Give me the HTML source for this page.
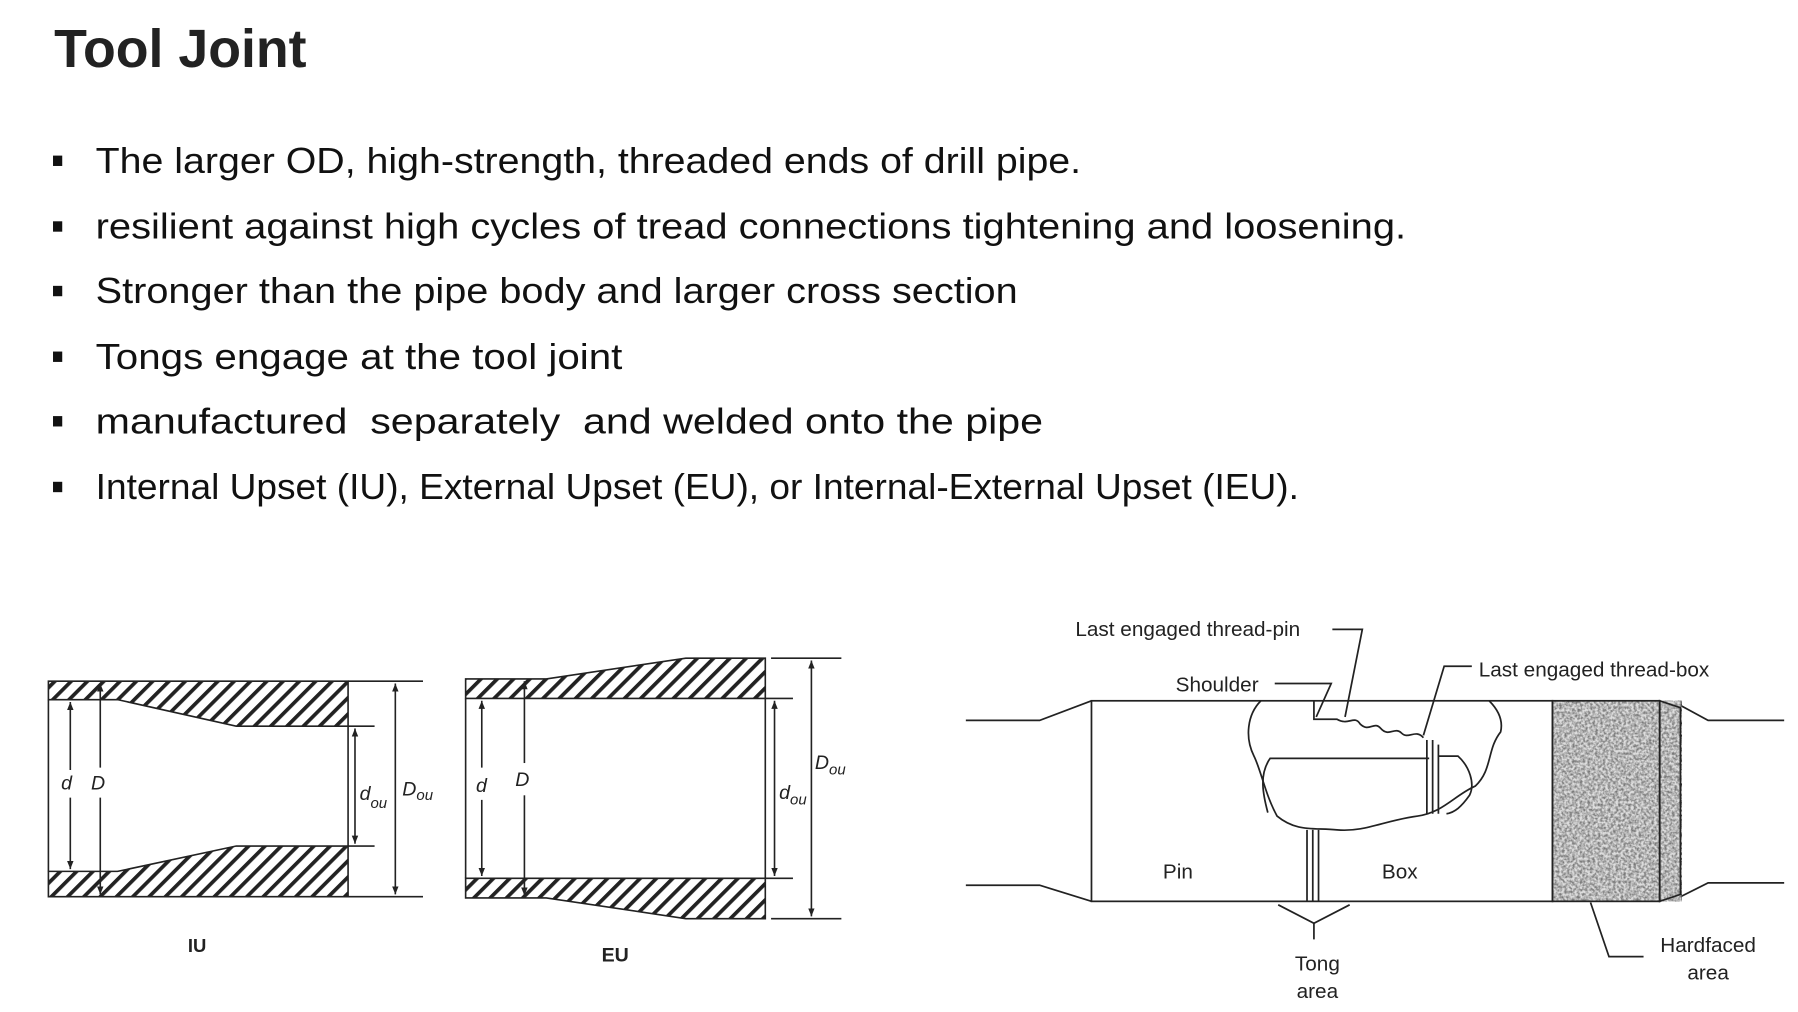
<!DOCTYPE html>
<html><head><meta charset="utf-8"><style>
html,body{margin:0;padding:0;background:#fff;}
svg{display:block;}
</style></head><body>
<svg width="1798" height="1012" viewBox="0 0 1560 878" preserveAspectRatio="none" xmlns="http://www.w3.org/2000/svg">
<defs>
<pattern id="hatch" patternUnits="userSpaceOnUse" width="10" height="10" patternTransform="rotate(45)">
<rect width="10" height="10" fill="#fff"/><rect x="0" y="0" width="3.2" height="10" fill="#222"/>
</pattern>
<filter id="noise" x="0" y="0" width="100%" height="100%">
<feTurbulence type="fractalNoise" baseFrequency="0.45" numOctaves="2" seed="3"/>
<feColorMatrix type="matrix" values="0 0 0 0 0  0 0 0 0 0  0 0 0 0 0  0 0 0 -2.2 1.5"/>
</filter>
<marker id="ar" viewBox="0 0 10 10" refX="10" refY="5" markerWidth="7" markerHeight="9" orient="auto-start-reverse" markerUnits="userSpaceOnUse">
<path d="M0,1 L10,5 L0,9 Z" fill="#222"/></marker>
</defs>
<rect width="1560" height="878" fill="#fff"/>
<text x="47" y="58" font-family="Liberation Sans, sans-serif" font-weight="bold" font-size="47" fill="#222" textLength="219" lengthAdjust="spacingAndGlyphs">Tool Joint</text>
<g font-family="Liberation Sans, sans-serif" font-size="31" fill="#111">
<rect x="46" y="135" width="8" height="9" fill="#111"/><text x="83" y="150" textLength="855" lengthAdjust="spacingAndGlyphs">The larger OD, high-strength, threaded ends of drill pipe.</text>
<rect x="46" y="192" width="8" height="9" fill="#111"/><text x="83" y="207" textLength="1137" lengthAdjust="spacingAndGlyphs">resilient against high cycles of tread connections tightening and loosening.</text>
<rect x="46" y="248" width="8" height="9" fill="#111"/><text x="83" y="263" textLength="800" lengthAdjust="spacingAndGlyphs">Stronger than the pipe body and larger cross section</text>
<rect x="46" y="305" width="8" height="9" fill="#111"/><text x="83" y="320" textLength="457" lengthAdjust="spacingAndGlyphs">Tongs engage at the tool joint</text>
<rect x="46" y="361" width="8" height="9" fill="#111"/><text x="83" y="376" textLength="822" lengthAdjust="spacingAndGlyphs" xml:space="preserve">manufactured  separately  and welded onto the pipe</text>
<rect x="46" y="418" width="8" height="9" fill="#111"/><text x="83" y="433" textLength="1044" lengthAdjust="spacingAndGlyphs">Internal Upset (IU), External Upset (EU), or Internal-External Upset (IEU).</text>
</g>

<!-- IU -->
<g stroke="#222" stroke-width="1.4">
<polygon points="42,591 302,591 302,630 205,630 102,607 42,607" fill="url(#hatch)"/>
<polygon points="42,778 302,778 302,734 205,734 102,756 42,756" fill="url(#hatch)"/>
<line x1="42" y1="607" x2="42" y2="756"/>
<line x1="302" y1="630" x2="302" y2="734"/>
<line x1="302" y1="591" x2="367" y2="591"/><line x1="302" y1="778" x2="367" y2="778"/>
<line x1="302" y1="630" x2="325" y2="630"/><line x1="302" y1="734" x2="325" y2="734"/>
<line x1="61" y1="609" x2="61" y2="668" marker-start="url(#ar)"/><line x1="61" y1="692" x2="61" y2="754" marker-end="url(#ar)"/>
<line x1="87" y1="593" x2="87" y2="666" marker-start="url(#ar)"/><line x1="87" y1="692" x2="87" y2="776" marker-end="url(#ar)"/>
<line x1="308" y1="632" x2="308" y2="732" marker-start="url(#ar)" marker-end="url(#ar)"/>
<line x1="343" y1="593" x2="343" y2="776" marker-start="url(#ar)" marker-end="url(#ar)"/>
</g>
<!-- EU -->
<g stroke="#222" stroke-width="1.4">
<polygon points="404,589 474,589 595,571 664,571 664,606 404,606" fill="url(#hatch)"/>
<polygon points="404,762 664,762 664,797 595,797 474,779 404,779" fill="url(#hatch)"/>
<line x1="404" y1="606" x2="404" y2="762"/>
<line x1="664" y1="606" x2="664" y2="762"/>
<line x1="669" y1="571" x2="730" y2="571"/><line x1="669" y1="797" x2="730" y2="797"/>
<line x1="664" y1="606" x2="688" y2="606"/><line x1="664" y1="762" x2="688" y2="762"/>
<line x1="418" y1="608" x2="418" y2="666" marker-start="url(#ar)"/><line x1="418" y1="694" x2="418" y2="760" marker-end="url(#ar)"/>
<line x1="455" y1="591" x2="455" y2="662" marker-start="url(#ar)"/><line x1="455" y1="690" x2="455" y2="777" marker-end="url(#ar)"/>
<line x1="672" y1="608" x2="672" y2="760" marker-start="url(#ar)" marker-end="url(#ar)"/>
<line x1="704" y1="573" x2="704" y2="795" marker-start="url(#ar)" marker-end="url(#ar)"/>
</g>
<g font-family="Liberation Sans, sans-serif" font-style="italic" font-size="17" fill="#222">
<rect x="52" y="669" width="42" height="22" fill="#fff"/>
<text x="53" y="685">d</text><text x="79" y="685">D</text>
<text x="312" y="694">d<tspan font-size="13" dy="7">ou</tspan></text>
<text x="349" y="690">D<tspan font-size="13" dy="4">ou</tspan></text>
<rect x="410" y="667" width="52" height="22" fill="#fff"/>
<text x="413" y="687">d</text><text x="447" y="682">D</text>
<text x="676" y="693">d<tspan font-size="13" dy="5">ou</tspan></text>
<text x="707" y="667">D<tspan font-size="13" dy="5">ou</tspan></text>
</g>
<text x="163" y="826" font-family="Liberation Sans, sans-serif" font-weight="bold" font-size="16" fill="#222">IU</text>
<text x="522" y="834" font-family="Liberation Sans, sans-serif" font-weight="bold" font-size="17" fill="#222">EU</text>

<!-- Tool joint -->
<g fill="none" stroke="#222" stroke-width="1.5">
<polyline points="838,625 902,625 947,608"/>
<polyline points="838,768 902,768 947,782"/>
<polyline points="1458,612 1482,625 1548,625"/>
<polyline points="1458,778 1482,766 1548,766"/>
<rect x="947" y="608" width="400" height="174"/>
</g>
<g filter="url(#noise)"><rect x="1347" y="608" width="112" height="174" fill="#888"/></g>
<rect x="1347" y="608" width="112" height="174" fill="#c8c8c8" opacity="0.6"/>
<g fill="none" stroke="#222" stroke-width="1.5">
<rect x="1347" y="608" width="93" height="174"/>
<polygon points="1440,608 1458,614 1458,776 1440,782"/>
<path d="M1094,608 C1082,620 1080,640 1088,656 C1094,668 1098,690 1108,708 C1125,722 1140,718 1160,720 C1185,722 1200,712 1230,708 C1252,705 1262,690 1280,682 C1295,668 1290,650 1302,635 C1305,622 1296,612 1292,608"/>
<path d="M1100,705 C1096,690 1092,672 1102,658 L1240,658"/>
<path d="M1248,656 L1265,656 C1275,665 1280,680 1275,690 C1268,700 1262,705 1255,706"/>
<path d="M1140,608 L1140,624 L1160,624 C1170,630 1175,620 1180,628 C1188,636 1192,625 1198,632 C1205,640 1210,630 1216,636 C1222,642 1228,632 1235,640"/>
<line x1="1238" y1="642" x2="1238" y2="706"/><line x1="1243" y1="642" x2="1243" y2="706"/><line x1="1248" y1="646" x2="1248" y2="706"/>
<line x1="1134" y1="720" x2="1134" y2="782"/><line x1="1139" y1="720" x2="1139" y2="782"/><line x1="1144" y1="720" x2="1144" y2="782"/>
<polyline points="1109,785 1140,801 1171,785"/><line x1="1140" y1="801" x2="1140" y2="815"/>
<polyline points="1156,546 1182,546 1167,622"/>
<polyline points="1106,593 1155,593 1142,622"/>
<polyline points="1277,578 1253,578 1235,638"/>
<polyline points="1380,783 1396,830 1426,830"/>
</g>
<g font-family="Liberation Sans, sans-serif" font-size="18" fill="#222">
<text x="933" y="552">Last engaged thread-pin</text>
<text x="1020" y="600">Shoulder</text>
<text x="1283" y="587">Last engaged thread-box</text>
<text x="1009" y="762">Pin</text>
<text x="1199" y="762">Box</text>
<text x="1143" y="842" text-anchor="middle">Tong</text>
<text x="1143" y="866" text-anchor="middle">area</text>
<text x="1482" y="826" text-anchor="middle">Hardfaced</text>
<text x="1482" y="850" text-anchor="middle">area</text>
</g>
</svg>
</body></html>
